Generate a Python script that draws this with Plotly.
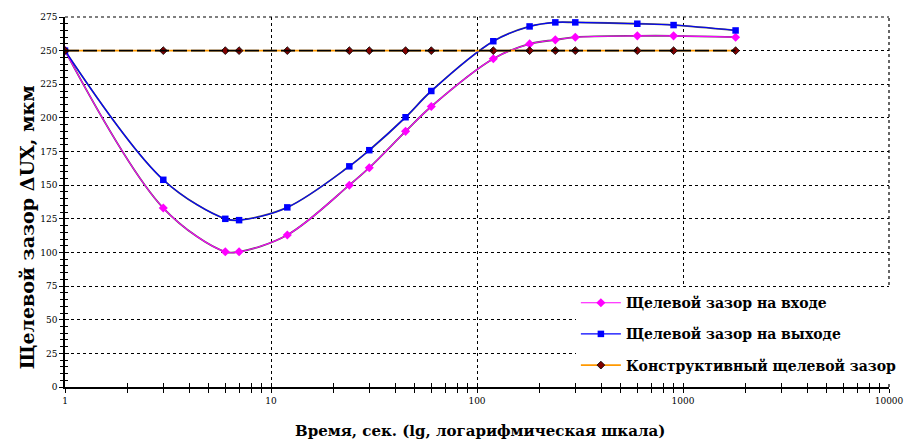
import plotly.graph_objects as go

# Time points, seconds
time_s = [1, 3, 6, 7, 12, 24, 30, 45, 60, 120, 180, 240, 300, 600, 900, 1800]
# Gap at the inlet, um
gap_inlet = [250, 133, 100.5, 100.5, 113, 150, 163, 190, 208.5, 244, 255, 258, 260, 261, 261, 260]
# Gap at the outlet, um
gap_outlet = [250, 154, 125, 124, 133.5, 164, 176, 200.5, 220, 257, 268, 271, 271, 270, 269, 265]
# Design gap, um
gap_design = [250] * len(time_s)

x_ticks = [1, 10, 100, 1000, 10000]
x_tick_text = ["1", "10", "100", "1000", "10000"]
y_ticks = list(range(0, 276, 25))

x_title = "Время, сек. (lg, логарифмическая шкала)"
y_title = "Щелевой зазор ΔUX, мкм"

serif = "DejaVu Serif"

fig = go.Figure()

# dark under-strokes give the curves their thin dark edge
for ys in (gap_inlet, gap_outlet):
    fig.add_trace(go.Scatter(
        x=time_s, y=ys, mode="lines", showlegend=False, hoverinfo="skip",
        line=dict(color="#555555", width=1.8, shape="spline", smoothing=1.0),
    ))

fig.add_trace(go.Scatter(
    x=time_s, y=gap_inlet, mode="lines+markers", name="Щелевой зазор на входе",
    line=dict(color="#ff00ff", width=1.1, shape="spline", smoothing=1.0),
    marker=dict(symbol="diamond", size=7, color="#ff00ff"),
    legendgroup="a",
))
fig.add_trace(go.Scatter(
    x=time_s, y=gap_outlet, mode="lines+markers", name="Щелевой зазор на выходе",
    line=dict(color="#0000ff", width=1.1, shape="spline", smoothing=1.0),
    marker=dict(symbol="square", size=6.5, color="#0000ff"),
    legendgroup="b",
))
fig.add_trace(go.Scatter(
    x=time_s, y=gap_design, mode="lines+markers", name="Конструктивный щелевой зазор",
    line=dict(color="#ff9900", width=1.7),
    marker=dict(symbol="diamond", size=6, color="#800000",
                line=dict(color="#000000", width=0.8)),
    legendgroup="c",
))
fig.add_trace(go.Scatter(
    x=time_s, y=gap_design, mode="lines", showlegend=False, hoverinfo="skip",
    line=dict(color="#000000", width=1.6, dash="14px,4px"),
))

tick_font = dict(family=serif, size=9, color="#000000")

fig.update_layout(
    width=916, height=443,
    margin=dict(l=65, r=15, t=17, b=56),
    paper_bgcolor="#ffffff", plot_bgcolor="#ffffff",
    font=dict(family=serif, color="#000000"),
    legend=dict(
        x=0.62, y=0.27, xanchor="left", yanchor="top",
        bgcolor="#ffffff", borderwidth=0,
        font=dict(family=serif, size=14, color="#000000", weight="bold"),
        tracegroupgap=10, itemwidth=40,
    ),
    xaxis=dict(
        type="log", range=[0, 4],
        tickvals=x_ticks, ticktext=x_tick_text, tickfont=tick_font,
        showline=True, linecolor="#000000", linewidth=1.5,
        ticks="outside", ticklen=4, tickcolor="#000000", tickwidth=1,
        showgrid=True, gridcolor="#000000", griddash="dot", gridwidth=1.2,
        zeroline=False,
        minor=dict(dtick="D1", ticks="outside", ticklen=4, tickcolor="#000000",
                   tickwidth=1, showgrid=False),
    ),
    yaxis=dict(
        range=[0, 275],
        tickvals=y_ticks, tickfont=tick_font,
        showline=True, linecolor="#000000", linewidth=1.5,
        ticks="outside", ticklen=4, tickcolor="#000000", tickwidth=1,
        showgrid=True, gridcolor="#000000", griddash="dot", gridwidth=1.2,
        zeroline=False,
        minor=dict(dtick=5, ticks="outside", ticklen=3, tickcolor="#000000",
                   tickwidth=1, showgrid=False),
    ),
    # twin axes carry the inner halves of the crossing tick marks
    xaxis2=dict(
        type="log", range=[0, 4], overlaying="x", side="bottom", anchor="y",
        tickvals=x_ticks, showticklabels=False, showgrid=False, zeroline=False,
        ticks="inside", ticklen=4, tickcolor="#000000", tickwidth=1,
        minor=dict(dtick="D1", ticks="inside", ticklen=4, tickcolor="#000000", tickwidth=1),
    ),
    yaxis2=dict(
        range=[0, 275], overlaying="y", side="left", anchor="x",
        tickvals=y_ticks, showticklabels=False, showgrid=False, zeroline=False,
        ticks="inside", ticklen=4, tickcolor="#000000", tickwidth=1,
        minor=dict(dtick=5, ticks="inside", ticklen=3, tickcolor="#000000", tickwidth=1),
    ),
    # dotted frame along the top and right edges of the plot area
    shapes=[
        dict(type="line", xref="paper", yref="paper", x0=0, x1=1, y0=1, y1=1,
             line=dict(color="#000000", width=1.2, dash="dot"), layer="below"),
        dict(type="line", xref="paper", yref="paper", x0=1, x1=1, y0=0, y1=1,
             line=dict(color="#000000", width=1.2, dash="dot"), layer="below"),
    ],
    # axis titles, placed as annotations
    annotations=[
        dict(text=f"<b>{x_title}</b>", xref="paper", yref="paper",
             x=0.504, y=0, xanchor="center", yanchor="middle", yshift=-44,
             showarrow=False, font=dict(family=serif, size=15, color="#000000")),
        dict(text=f"<b>{y_title}</b>", xref="paper", yref="paper",
             x=0, y=0.432, xanchor="center", yanchor="middle", xshift=-38,
             textangle=-90, showarrow=False,
             font=dict(family=serif, size=19, color="#000000")),
    ],
)

# invisible trace to activate the twin axes
fig.add_trace(go.Scatter(x=[1, 10000], y=[0, 275], xaxis="x2", yaxis="y2",
                         mode="markers", marker=dict(opacity=0),
                         showlegend=False, hoverinfo="skip"))

fig.write_html("out.html")
